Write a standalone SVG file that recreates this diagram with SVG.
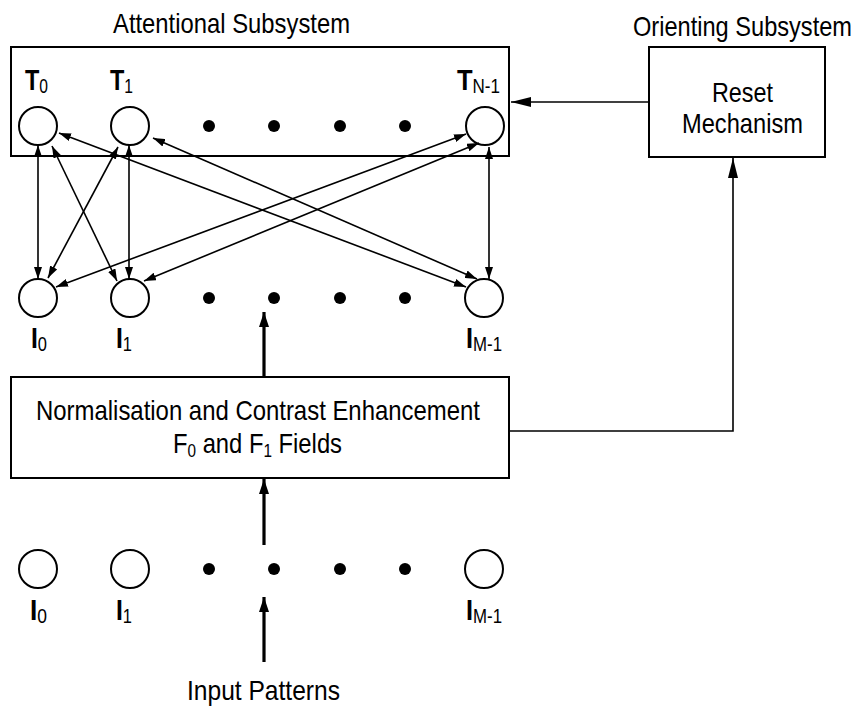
<svg xmlns="http://www.w3.org/2000/svg" width="858" height="707" viewBox="0 0 858 707">
<style>
text{font-family:"Liberation Sans Narrow","Liberation Sans",Arial,sans-serif;fill:#000}
.t{font-size:28px}
.lbl{font-size:30px;font-weight:bold}
.sub{font-size:20px;font-weight:normal}
.fsub{font-size:18px}
.box{fill:#fff;stroke:#000;stroke-width:2}
.node{fill:#fff;stroke:#000;stroke-width:2}
.dot{fill:#000}
.c{fill:none;stroke:#000;stroke-width:1.6}
.ck{fill:none;stroke:#000;stroke-width:3.2}
</style>
<defs>
<marker id="ah" markerUnits="userSpaceOnUse" markerWidth="12" markerHeight="8" refX="12" refY="4" orient="auto-start-reverse"><path d="M0,0 L12,4 L0,8 z" fill="#000"/></marker>
<marker id="ahk" markerUnits="userSpaceOnUse" markerWidth="15" markerHeight="10" refX="15" refY="5" orient="auto"><path d="M0,0 L15,5 L0,10 z" fill="#000"/></marker>
<marker id="ahl" markerUnits="userSpaceOnUse" markerWidth="20" markerHeight="10" refX="20" refY="5" orient="auto"><path d="M0,0 L20,5 L0,10 z" fill="#000"/></marker>
</defs>
<rect width="858" height="707" fill="#fff"/>

<g id="attentional">
<rect class="box" x="11" y="47" width="498" height="109"/>
<text class="t" x="113" y="33" textLength="237" lengthAdjust="spacingAndGlyphs">Attentional Subsystem</text>
</g>
<g id="orienting">
<text class="t" x="633" y="36" textLength="219" lengthAdjust="spacingAndGlyphs">Orienting Subsystem</text>
</g>
<g id="reset">
<rect class="box" x="649" y="47" width="176" height="110"/>
<text class="t" x="712" y="102" textLength="61" lengthAdjust="spacingAndGlyphs">Reset</text>
<text class="t" x="682" y="133" textLength="121" lengthAdjust="spacingAndGlyphs">Mechanism</text>
</g>
<g id="normalisation">
<rect class="box" x="11" y="377" width="498" height="101"/>
<text class="t" x="36" y="420" textLength="444" lengthAdjust="spacingAndGlyphs">Normalisation and Contrast Enhancement</text>
<text class="t" x="173" y="453" textLength="169" lengthAdjust="spacingAndGlyphs">F<tspan class="fsub" dy="4">0</tspan><tspan dy="-4"> and F</tspan><tspan class="fsub" dy="4">1</tspan><tspan dy="-4"> Fields</tspan></text>
</g>

<g id="T0"><circle class="node" cx="38" cy="126" r="19"/><text class="lbl" x="25" y="90" textLength="23" lengthAdjust="spacingAndGlyphs">T<tspan class="sub" dy="3">0</tspan></text></g>
<g id="T1"><circle class="node" cx="130" cy="126" r="19"/><text class="lbl" x="110" y="90" textLength="23" lengthAdjust="spacingAndGlyphs">T<tspan class="sub" dy="3">1</tspan></text></g>
<g id="TN-1"><circle class="node" cx="485" cy="126" r="19"/><text class="lbl" x="457" y="90" textLength="43" lengthAdjust="spacingAndGlyphs">T<tspan class="sub" dy="3">N-1</tspan></text></g>
<g id="T-dots"><circle class="dot" cx="209" cy="126" r="6"/><circle class="dot" cx="274" cy="126" r="6"/><circle class="dot" cx="340" cy="126" r="6"/><circle class="dot" cx="405" cy="126" r="6"/></g>

<g id="I0"><circle class="node" cx="38" cy="298" r="19"/><text class="lbl" x="31" y="348" textLength="16" lengthAdjust="spacingAndGlyphs">I<tspan class="sub" dy="3">0</tspan></text></g>
<g id="I1"><circle class="node" cx="130" cy="298" r="19"/><text class="lbl" x="116" y="348" textLength="16" lengthAdjust="spacingAndGlyphs">I<tspan class="sub" dy="3">1</tspan></text></g>
<g id="IM-1"><circle class="node" cx="484" cy="298" r="19"/><text class="lbl" x="466" y="348" textLength="36" lengthAdjust="spacingAndGlyphs">I<tspan class="sub" dy="3">M-1</tspan></text></g>
<g id="I-dots"><circle class="dot" cx="209" cy="298" r="6"/><circle class="dot" cx="274" cy="298" r="6"/><circle class="dot" cx="340" cy="298" r="6"/><circle class="dot" cx="405" cy="298" r="6"/></g>

<g id="in0"><circle class="node" cx="38" cy="569" r="19"/><text class="lbl" x="30" y="620" textLength="17" lengthAdjust="spacingAndGlyphs">I<tspan class="sub" dy="3">0</tspan></text></g>
<g id="in1"><circle class="node" cx="130" cy="569" r="19"/><text class="lbl" x="116" y="620" textLength="16" lengthAdjust="spacingAndGlyphs">I<tspan class="sub" dy="3">1</tspan></text></g>
<g id="inM-1"><circle class="node" cx="484" cy="569" r="19"/><text class="lbl" x="466" y="620" textLength="36" lengthAdjust="spacingAndGlyphs">I<tspan class="sub" dy="3">M-1</tspan></text></g>
<g id="in-dots"><circle class="dot" cx="209" cy="569" r="6"/><circle class="dot" cx="274" cy="569" r="6"/><circle class="dot" cx="340" cy="569" r="6"/><circle class="dot" cx="405" cy="569" r="6"/></g>

<g id="input-label"><text class="t" x="187" y="700" textLength="153" lengthAdjust="spacingAndGlyphs">Input Patterns</text></g>

<g id="connectors">
<line class="c" x1="38" y1="145" x2="38" y2="279" marker-start="url(#ah)" marker-end="url(#ah)"/>
<line class="c" x1="129" y1="145" x2="129" y2="279" marker-start="url(#ah)" marker-end="url(#ah)"/>
<line class="c" x1="489" y1="147" x2="489" y2="279" marker-start="url(#ah)" marker-end="url(#ah)"/>
<line class="c" x1="52" y1="146" x2="117" y2="281" marker-start="url(#ah)" marker-end="url(#ah)"/>
<line class="c" x1="118" y1="147" x2="48" y2="278" marker-start="url(#ah)" marker-end="url(#ah)"/>
<line class="c" x1="59" y1="133" x2="466" y2="287" marker-start="url(#ah)" marker-end="url(#ah)"/>
<line class="c" x1="153" y1="138" x2="477" y2="279" marker-start="url(#ah)" marker-end="url(#ah)"/>
<line class="c" x1="466" y1="134" x2="56" y2="287" marker-start="url(#ah)" marker-end="url(#ah)"/>
<line class="c" x1="479" y1="143" x2="144" y2="281" marker-start="url(#ah)" marker-end="url(#ah)"/>
<line class="c" x1="649" y1="102" x2="511" y2="102" marker-end="url(#ahl)"/>
<polyline class="c" points="509,431 733,431 733,158" marker-end="url(#ahl)"/>
<line class="ck" x1="264" y1="377" x2="264" y2="312" marker-end="url(#ahk)"/>
<line class="ck" x1="264" y1="545" x2="264" y2="479" marker-end="url(#ahk)"/>
<line class="ck" x1="264" y1="662" x2="264" y2="597" marker-end="url(#ahk)"/>
</g>
</svg>
